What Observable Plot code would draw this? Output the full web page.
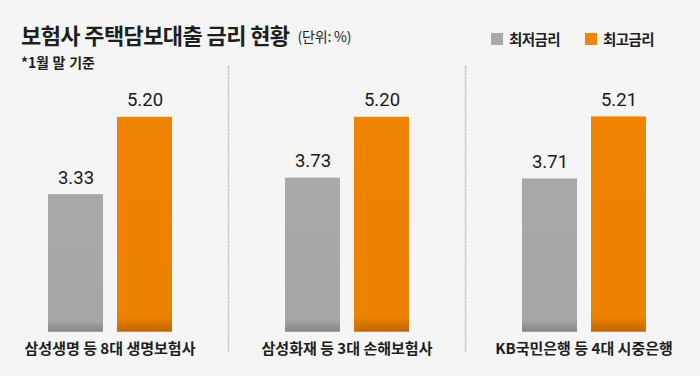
<!DOCTYPE html>
<html>
<head>
<meta charset="utf-8">
<script src="https://cdn.jsdelivr.net/npm/d3@7"></script>
<script src="https://cdn.jsdelivr.net/npm/@observablehq/plot@0.6"></script>
<style>
  html, body { margin: 0; padding: 0; background: #f5f5f5; }
  #wrap { position: relative; width: 700px; height: 376px; background: #f5f5f5; overflow: hidden;
          font-family: "Noto Sans CJK KR", "Noto Sans", sans-serif; color: #1e1e1e; }
  #title { position: absolute; left: 21px; top: 21px; font-size: 22px; line-height: 26px; font-weight: 700; letter-spacing: -0.6px; white-space: nowrap; }
  #title .unit { font-size: 14px; font-weight: 400; letter-spacing: -0.2px; margin-left: 8px; position: relative; top: -2px; }
  #sub { position: absolute; left: 21px; top: 54px; font-size: 14px; line-height: 16px; font-weight: 700; letter-spacing: -0.2px; word-spacing: 1px; white-space: nowrap; }
  #legend { position: absolute; left: 491px; top: 30px; display: flex; align-items: center; font-size: 14.5px; line-height: 18px; font-weight: 700; letter-spacing: -0.6px; }
  #legend .item { display: flex; align-items: center; margin-right: 25px; }
  #legend .sw { width: 12px; height: 12px; margin-right: 6px; }
  #chart { position: absolute; left: 0; top: 66px; }
  #chart svg text.cat { word-spacing: 2px; }
</style>
</head>
<body>
<svg width="0" height="0" style="position:absolute">
  <defs>
    <linearGradient id="gGray" x1="0" y1="0" x2="0" y2="1">
      <stop offset="0" stop-color="#a9a9a9"/>
      <stop offset="0.92" stop-color="#a6a6a6"/>
      <stop offset="1" stop-color="#858585"/>
    </linearGradient>
    <linearGradient id="gOrange" x1="0" y1="0" x2="0" y2="1">
      <stop offset="0" stop-color="#f08300"/>
      <stop offset="0.93" stop-color="#ed8100"/>
      <stop offset="1" stop-color="#c06800"/>
    </linearGradient>
  </defs>
</svg>
<div id="wrap">
  <div id="title">보험사 주택담보대출 금리 현황<span class="unit">(단위: %)</span></div>
  <div id="sub">*1월 말 기준</div>
  <div id="legend"></div>
  <div id="chart"></div>
</div>
<script>
const categories = ["삼성생명 등 8대 생명보험사", "삼성화재 등 3대 손해보험사", "KB국민은행 등 4대 시중은행"];
const seriesNames = ["최저금리", "최고금리"];
const seriesColors = ["#a9a9a9", "#f08300"];
const minRates = [3.33, 3.73, 3.71];
const maxRates = [5.20, 5.20, 5.21];

const rows = [];
categories.forEach((c, i) => {
  rows.push({category: c, series: seriesNames[0], value: minRates[i]});
  rows.push({category: c, series: seriesNames[1], value: maxRates[i]});
});

const legend = document.getElementById("legend");
seriesNames.forEach((s, i) => {
  const item = document.createElement("div");
  item.className = "item";
  item.innerHTML = `<span class="sw" style="background:${seriesColors[i]}"></span><span>${s}</span>`;
  legend.appendChild(item);
});

const plot = Plot.plot({
  width: 700,
  height: 310,
  marginTop: 0,
  marginBottom: 24,
  marginLeft: 0,
  marginRight: 0,
  style: {background: "transparent", overflow: "visible"},
  fx: {domain: categories, range: [-9.75, 702.75], padding: 0, axis: null},
  x: {domain: seriesNames, paddingInner: 0.207, paddingOuter: 0.8, axis: null},
  y: {domain: [-0.49, 6.43], axis: null},
  color: {domain: seriesNames, range: ["url(#gGray)", "url(#gOrange)"]},
  marks: [
    Plot.frame({anchor: "left", stroke: "#c9c9c9", strokeWidth: 1.6, strokeDasharray: "1.5,2"}),
    Plot.barY(rows, {fx: "category", x: "series", y: "value", fill: "series"}),
    Plot.text(rows, {fx: "category", x: "series", y: "value", text: d => d3.format(".2f")(d.value),
      dy: -17, fontSize: 18.5, fontFamily: "Roboto, sans-serif", fill: "#1a1a1a", letterSpacing: "-0.4px"}),
    Plot.text(categories, {fx: d => d, text: d => d, frameAnchor: "bottom", lineAnchor: "middle", dy: -3,
      fontSize: 15, fontWeight: 700, fontFamily: "Noto Sans CJK KR, sans-serif", fill: "#1e1e1e", letterSpacing: "-1px", className: "cat"})
  ]
});
document.getElementById("chart").appendChild(plot);
</script>
</body>
</html>
